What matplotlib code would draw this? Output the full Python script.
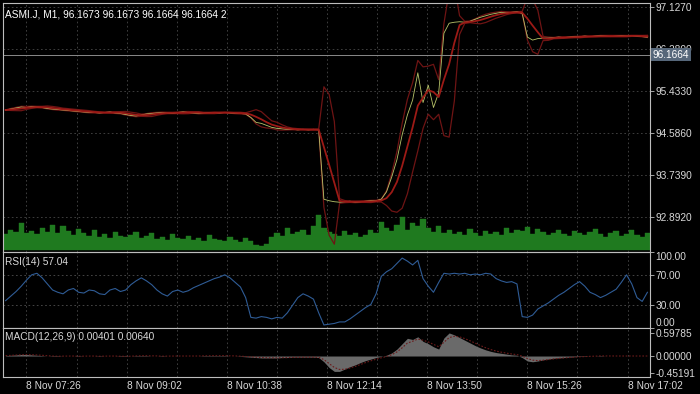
import numpy as np
import pandas as pd
import matplotlib
matplotlib.use('Agg')
import matplotlib.pyplot as plt

plt.rcParams['font.family'] = ['Liberation Sans', 'DejaVu Sans']

# --- dados (amostras a cada 5 minutos, inicio 07:06) ---
titulo = 'ASMI.J, M1, 96.1673 96.1673 96.1664 96.1664 2'
preco_atual = 96.1664

preco = [
    95.05, 95.07, 95.09, 95.11, 95.10, 95.12, 95.11, 95.10, 95.08, 95.07,
    95.06, 95.05, 95.04, 95.03, 95.02, 95.01, 95.00, 95.00, 94.99, 95.00,
    95.01, 94.99, 94.98, 94.96, 94.94, 94.93, 94.95, 94.97, 94.98, 94.99,
    95.00, 94.99, 94.98, 95.00, 95.01, 95.00, 94.99, 94.98, 94.99, 95.00,
    95.00, 94.99, 95.00, 94.99, 94.98, 94.98, 94.97, 94.90, 94.80, 94.78,
    94.74, 94.70, 94.68, 94.67, 94.66, 94.66, 94.65, 94.66, 94.65, 94.66,
    94.65, 93.25, 93.22, 93.20, 93.19, 93.20, 93.21, 93.19, 93.20, 93.21,
    93.22, 93.22, 93.25, 93.40, 93.70, 94.05, 94.55, 94.95, 95.25, 95.80,
    95.20, 95.55, 95.10, 95.40, 96.60, 96.80, 96.82, 96.83, 96.82, 96.84,
    96.88, 96.92, 96.95, 96.98, 97.00, 97.02, 97.01, 97.02, 97.03, 97.00,
    96.52, 96.46, 96.49, 96.50, 96.50, 96.51, 96.52, 96.51, 96.52, 96.53,
    96.53, 96.54, 96.53, 96.54, 96.55, 96.54, 96.53, 96.54, 96.55, 96.54,
    96.55, 96.54, 96.53, 96.52,
]

volume = [
    16, 20, 18, 27, 17, 19, 16, 22, 18, 25, 17, 24,
    19, 15, 21, 17, 14, 20, 13, 16, 12, 18, 14, 13,
    15, 18, 12, 14, 17, 11, 13, 10, 16, 12, 11, 14,
    10, 12, 9, 15, 11, 10, 9, 13, 10, 8, 12, 9,
    5, 4, 6,
    13, 17, 14, 22, 16, 18, 20, 15, 24, 35, 22, 18,
    16, 14, 19, 15, 17, 13, 15, 20, 17, 28, 22, 19,
    25, 33, 20, 27, 24, 31, 22, 18, 24, 17, 20, 16,
    18, 15, 21, 17, 14, 19, 16, 18, 15, 22, 17, 20,
    19, 23, 16, 21, 18, 15, 17, 20, 16, 14, 19, 17,
    15, 18, 21, 16, 13, 17,
    19, 14, 16, 20, 15, 13, 17,
]

rsi = [
    36, 42, 48, 55, 63, 70, 72, 66, 58, 50,
    47, 45, 50, 52, 47, 46, 50, 49, 45, 44,
    50, 52, 48, 50, 57, 62, 66, 62, 57, 50,
    45, 42, 48, 50, 47, 49, 53, 56, 59, 62,
    65, 67, 70, 66, 60, 54, 40, 14, 13, 15,
    14, 12, 14, 13, 20, 30, 40, 45, 42, 38,
    20, 4, 5, 6, 8, 8, 12, 17, 22, 27,
    31, 45, 68, 74, 78, 85, 92, 88, 83, 89,
    65, 55, 47, 60, 72, 71, 72, 71, 72, 70,
    71, 70, 72, 71, 65, 62, 60, 61, 58, 15,
    14, 17, 25, 29, 33, 38, 43, 47, 52, 57,
    61, 55, 47, 44, 40, 43, 47, 51, 60, 70,
    58, 40, 35, 47,
]

macd = [
    0.01, 0.02, 0.03, 0.04, 0.04, 0.03, 0.02, 0.01, 0.00, -0.01,
    -0.01, 0.00, 0.00, 0.00, -0.01, 0.00, 0.00, 0.00, -0.01, 0.00,
    0.00, 0.00, -0.01, -0.01, 0.00, 0.01, 0.01, 0.01, 0.00, 0.00,
    -0.01, 0.00, 0.00, 0.00, 0.00, 0.00, 0.00, 0.00, 0.01, 0.01,
    0.01, 0.01, 0.01, 0.00, 0.00, -0.01, -0.02, -0.03, -0.04, -0.05,
    -0.05, -0.05, -0.05, -0.04, -0.04, -0.03, -0.03, -0.03, -0.03, -0.03,
    -0.04, -0.15, -0.30, -0.40, -0.40, -0.34, -0.28, -0.23, -0.17, -0.12,
    -0.08, -0.04, -0.01, 0.02, 0.08, 0.18, 0.32, 0.46, 0.43, 0.50,
    0.38, 0.32, 0.24, 0.18, 0.47, 0.60, 0.55, 0.48, 0.41, 0.34,
    0.27, 0.21, 0.16, 0.12, 0.09, 0.07, 0.05, 0.03, 0.02, -0.04,
    -0.13, -0.15, -0.13, -0.10, -0.08, -0.06, -0.05, -0.04, -0.03, -0.02,
    -0.01, -0.01, 0.00, 0.00, 0.01, 0.00, 0.00, 0.00, 0.00, 0.00,
    0.00, 0.00, 0.00, 0.00,
]

rotulos_tempo = ['8 Nov 07:26', '8 Nov 09:02', '8 Nov 10:38', '8 Nov 12:14',
                 '8 Nov 13:50', '8 Nov 15:26', '8 Nov 17:02']
ticks_preco = [97.1270, 96.2800, 95.4330, 94.5860, 93.7390, 92.8920]

# --- processar ---
df = pd.DataFrame({'preco': preco, 'volume': volume, 'rsi': rsi, 'macd': macd})
df['minuto'] = np.arange(len(df)) * 5
df['ma'] = df['preco'].rolling(4, min_periods=1).mean()
desvio = df['preco'].rolling(4, min_periods=1).std(ddof=0)
df['sup'] = df['ma'] + 2 * desvio
df['inf'] = df['ma'] - 2 * desvio
df['sinal'] = df['macd'].ewm(span=3).mean()

fundo = 'black'
cor_txt = '#d8d8d8'
cor_borda = '#bdbdbd'
cor_grid = '#474747'
x_ticks = [20 + 96 * k for k in range(len(rotulos_tempo))]
x_grid = [20 + 48 * k for k in range(13)]
xlim = (-2.5, 617.5)

fig = plt.figure(figsize=(7, 3.94), dpi=100, facecolor=fundo)
esq, larg = 0.0043, 0.9243
ax1 = fig.add_axes([esq, 0.3604, larg, 0.6320])
ax2 = fig.add_axes([esq, 0.1675, larg, 0.1929], sharex=ax1)
ax3 = fig.add_axes([esq, 0.0431, larg, 0.1244], sharex=ax1)

# Volume no fundo do painel principal
axv = ax1.twinx()
axv.bar(df['minuto'], df['volume'], width=5, color='#1f7a1f',
        edgecolor='#1f7a1f', linewidth=0.3, zorder=1)
axv.set_ylim(-2, 249)
axv.axis('off')

for ax in (ax1, ax2, ax3):
    ax.set_facecolor(fundo)
    for s in ax.spines.values():
        s.set_color(cor_borda)
        s.set_linewidth(0.8)
    ax.yaxis.tick_right()
    ax.tick_params(axis='y', colors=cor_borda, labelcolor=cor_txt,
                   labelsize=7.3, length=3, width=0.6, pad=1)
    ax.tick_params(axis='x', length=0, labelbottom=False)
    ax.set_xlim(*xlim)

# grade vertical desenhada no eixo do volume (fica por baixo de tudo no painel principal)
for ax in (axv, ax2, ax3):
    for xv in x_grid:
        ax.axvline(xv, color=cor_grid, lw=0.6, ls=(0, (2, 3)), zorder=0)
for yv in ticks_preco:
    axv.axhline((yv - 92.186) / (97.208 - 92.186) * 251 - 2, color=cor_grid,
                lw=0.6, ls=(0, (2, 3)), zorder=0)
axv.set_zorder(0.5)
ax1.set_zorder(1)
ax1.patch.set_visible(False)

# Painel principal: preco + bandas
ax1.plot(df['minuto'], df['sup'], color='#6e1414', lw=0.9)
ax1.plot(df['minuto'], df['inf'], color='#6e1414', lw=0.9)
ax1.plot(df['minuto'], df['preco'], color='#b8c46a', lw=0.6)
ax1.plot(df['minuto'], df['ma'], color='#9c1a16', lw=1.3)
ax1.axhline(preco_atual, color='#8a8a8a', lw=0.7)
ax1.set_ylim(92.186, 97.208)
ax1.set_yticks(ticks_preco)
ax1.set_yticklabels([f'{v:.4f}' for v in ticks_preco])
ax1.text(1.004, preco_atual, f'{preco_atual:.4f}', transform=ax1.get_yaxis_transform(),
         ha='left', va='center', fontsize=7.3, color='white',
         bbox=dict(boxstyle='square,pad=0.15', fc='#56677a', ec='none'))
ax1.text(0.003, 0.975, titulo, transform=ax1.transAxes, ha='left', va='top',
         fontsize=7.3, color='white')

# RSI
for yv in (70, 30):
    ax2.axhline(yv, color='#4f4f4f', lw=0.6, ls=(0, (2, 3)), zorder=0)
ax2.plot(df['minuto'], df['rsi'], color='#2f5c96', lw=0.8)
ax2.set_ylim(1.0, 99.7)
ax2.set_yticks([100, 70, 30, 0])
ax2.set_yticklabels(['100.00', '70.00', '30.00', '0.00'])
ax2.text(0.003, 0.93, 'RSI(14) 57.04', transform=ax2.transAxes, ha='left', va='top',
         fontsize=7.3, color=cor_txt)

# MACD
ax3.fill_between(df['minuto'], df['macd'], 0, color='#6a6a6a', linewidth=0)
ax3.plot(df['minuto'], df['sinal'], color='#6a1a1a', lw=0.8, ls=(0, (1.5, 1.5)))
ax3.set_ylim(-0.546, 0.728)
ax3.set_yticks([0.59785, 0.0, -0.45191])
ax3.set_yticklabels(['0.59785', '0.00000', '-0.45191'])
ax3.text(0.003, 0.92, 'MACD(12,26,9) 0.00401 0.00640', transform=ax3.transAxes,
         ha='left', va='top', fontsize=7.3, color=cor_txt)
ax3.set_xticks(x_ticks)
ax3.set_xticklabels(rotulos_tempo)
ax3.tick_params(axis='x', labelbottom=True, labelsize=7.3, labelcolor=cor_txt, pad=3)
for t in ax3.get_xticklabels():
    t.set_ha('left')

fig.canvas.draw()
ts = ax2.get_yticklabels()
ts[0].set_va('top')
ts[-1].set_va('bottom')

plt.savefig('out.png', dpi=100, facecolor=fundo)
plt.close()
